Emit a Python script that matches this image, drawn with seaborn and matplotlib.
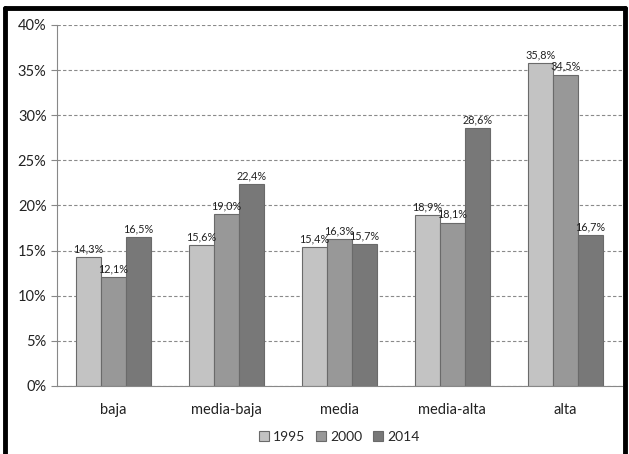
import matplotlib
matplotlib.use("Agg")
import matplotlib.pyplot as plt
import seaborn as sns
import pandas as pd
import numpy as np
from matplotlib.lines import Line2D
from matplotlib.ticker import FixedLocator

categories = ["baja", "media-baja", "media", "media-alta", "alta"]
years = ["1995", "2000", "2014"]
v1995 = [14.3, 15.6, 15.4, 18.9, 35.8]
v2000 = [12.1, 19.0, 16.3, 18.1, 34.5]
v2014 = [16.5, 22.4, 15.7, 28.6, 16.7]
yticks = [0, 5, 10, 15, 20, 25, 30, 35, 40]

rows = []
for y, vals in zip(years, [v1995, v2000, v2014]):
    for c, v in zip(categories, vals):
        rows.append({"cat": c, "year": y, "val": v})
df = pd.DataFrame(rows)

sns.set_style("white")
plt.rcParams['font.family'] = ['Lato', 'DejaVu Sans']

fig = plt.figure(figsize=(6.29, 4.54), dpi=100)
ax = fig.add_axes([0.0906, 0.150, 0.898, 0.795])

palette = {"1995": "#c3c3c3", "2000": "#989898", "2014": "#787878"}
sns.barplot(data=df, x="cat", y="val", hue="year", palette=palette, ax=ax,
            width=0.67, edgecolor="#6a6a6a", linewidth=0.8, saturation=1, legend=True)

for cont in ax.containers:
    ax.bar_label(cont, labels=[f"{v:.1f}%".replace(".", ",") for v in cont.datavalues],
                 padding=2, fontsize=7.8, color="#222222")

ax.set_ylim(0, 40)
ax.set_xlim(-0.5, 4.5)
ax.set_yticks(yticks)
ax.set_yticklabels([f"{t}%" for t in yticks], fontsize=10.5, color="#222222")
ax.yaxis.grid(True, linestyle=(0, (3, 2)), color="#8a8a8a", linewidth=0.8)
ax.set_axisbelow(True)
ax.set_xlabel("")
ax.set_ylabel("")
ax.tick_params(axis="x", which="major", length=0, labelsize=10.5, pad=12, labelcolor="#222222")
ax.xaxis.set_minor_locator(FixedLocator([-0.5, 0.5, 1.5, 2.5, 3.5, 4.5]))
ax.tick_params(axis="x", which="minor", length=4, color="#888888", direction="out")
ax.tick_params(axis="y", length=4, color="#888888", direction="out", left=True)
for s in ["top", "right"]:
    ax.spines[s].set_visible(False)
for s in ["left", "bottom"]:
    ax.spines[s].set_color("#888888")
    ax.spines[s].set_linewidth(0.8)

leg = ax.legend(loc="center", bbox_to_anchor=(0.5, -0.141), ncol=3, frameon=False,
                fontsize=10, handlelength=0.7, handleheight=0.7, columnspacing=0.8,
                handletextpad=0.3)

# outer frame (left, top, right)
for xs, ys in [([0.008, 0.008], [0.0, 0.982]), ([0.008, 0.994], [0.982, 0.982]),
               ([0.994, 0.994], [0.0, 0.982])]:
    fig.add_artist(Line2D(xs, ys, transform=fig.transFigure, color="black", linewidth=3.5))

fig.savefig("out.png", dpi=100)
